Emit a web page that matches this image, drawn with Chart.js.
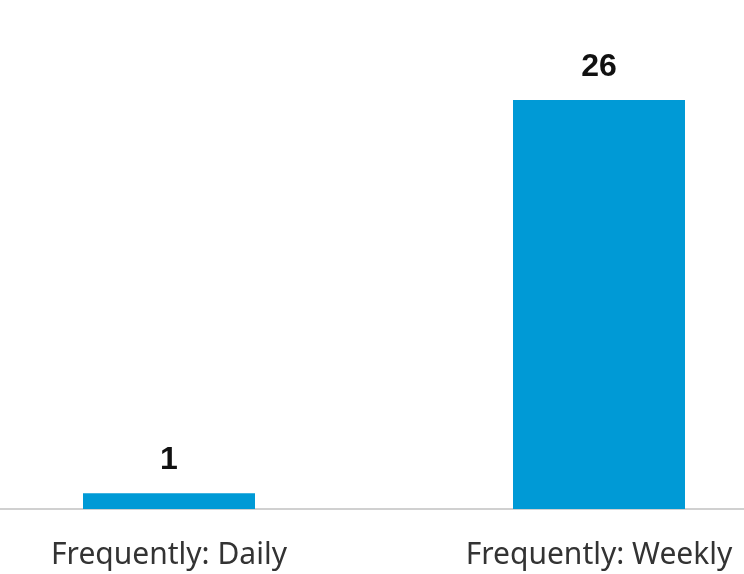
<!DOCTYPE html>
<html>
<head>
<meta charset="utf-8">
<script src="https://cdn.jsdelivr.net/npm/chart.js@4/dist/chart.umd.min.js"></script>
<style>
  html, body { margin: 0; padding: 0; background: #fff; overflow: hidden; }
  #wrap { position: absolute; left: -46px; top: 0; width: 860px; height: 611px; }
</style>
</head>
<body>
<div id="wrap"><canvas id="freqChart"></canvas></div>
<script>
const categories = ["Frequently: Daily", "Frequently: Weekly"];
const counts = [1, 26];

// value labels above each bar
const valueLabels = {
    id: "valueLabels",
    afterDatasetsDraw(chart) {
        const ctx = chart.ctx;
        const meta = chart.getDatasetMeta(0);
        ctx.save();
        ctx.font = "bold 32px 'Liberation Sans', Arial, sans-serif";
        ctx.fillStyle = "#111111";
        ctx.textAlign = "center";
        ctx.textBaseline = "alphabetic";
        meta.data.forEach((bar, i) => {
            ctx.fillText(String(counts[i]), bar.x, bar.y - 24);
        });
        ctx.restore();
    }
};

new Chart(document.getElementById("freqChart"), {
    type: "bar",
    data: {
        labels: categories,
        datasets: [{
            data: counts,
            backgroundColor: "#009ad6",
            barPercentage: 0.4,
            categoryPercentage: 1.0
        }]
    },
    options: {
        responsive: true,
        maintainAspectRatio: false,
        animation: false,
        layout: { padding: { top: 100, bottom: 10, left: 0, right: 0 } },
        plugins: { legend: { display: false }, tooltip: { enabled: false } },
        scales: {
            x: {
                grid: { display: false, drawTicks: false },
                border: { display: true, color: "#d0d0d0", width: 2 },
                ticks: {
                    color: "#333333",
                    padding: 31,
                    font: { family: "'Noto Sans', 'Open Sans', sans-serif", size: 30, lineHeight: 1 }
                }
            },
            y: {
                display: false,
                min: 0,
                max: 26
            }
        }
    },
    plugins: [valueLabels]
});
</script>
</body>
</html>
